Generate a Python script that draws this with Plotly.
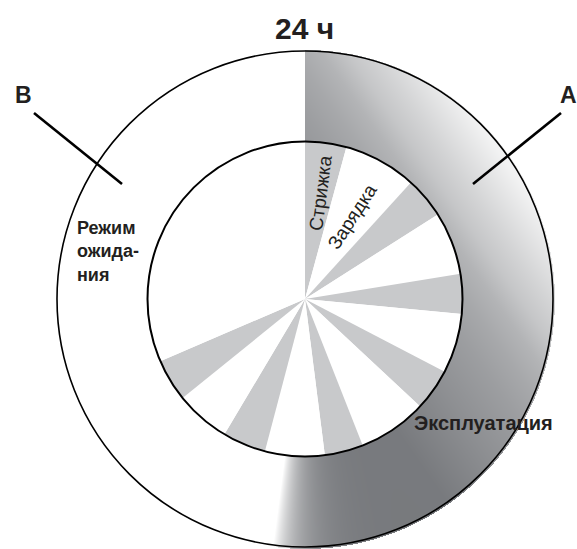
import numpy as np
import plotly.graph_objects as go

W, H = 577, 549

# ---------------- data ----------------
total_hours = 24
ring_labels = ["Эксплуатация", "Режим ожидания"]
ring_hours = [12.5, 11.5]

inner_labels = ["Стрижка", "Зарядка", "Стрижка", "Зарядка", "Стрижка", "Зарядка",
                "Стрижка", "Зарядка", "Стрижка", "Зарядка", "Стрижка", "Зарядка",
                "Стрижка", "Режим ожидания"]
inner_minutes = [61, 108, 61, 93, 59, 88, 62, 102, 57, 88, 64, 81, 63, 453]

title_text = "24 ч"
marker_labels = ["A", "B"]

# ---------------- styling ----------------
CX, CY = 305, 299
R_IN, R_OUT = 157.5, 248
FONT = "Liberation Sans, Arial, sans-serif"
TXT = "#231f20"
slice_colors = {"Стрижка": "#c8c9cb", "Зарядка": "#ffffff", "Режим ожидания": "#ffffff"}

# gradient stops (projection along a diagonal direction -> gray level)
grad_p = [-270, 0, 60, 107, 132, 155, 176, 200, 243, 275]
grad_v = [115, 122, 143, 158, 168, 180, 198, 213, 242, 247]
phi = np.radians(55)

# ---------------- outer ring shading (operation part) ----------------
xs = np.arange(np.floor(CX - R_OUT) - 2, np.ceil(CX + R_OUT) + 3)
ys = np.arange(np.floor(CY - R_OUT) - 2, np.ceil(CY + R_OUT) + 3)
X, Y = np.meshgrid(xs, ys)
dx, dy = X - CX, Y - CY
r = np.hypot(dx, dy)
theta = np.degrees(np.arctan2(dx, -dy)) % 360
theta_end = 360.0 * ring_hours[0] / total_hours
p = dx * np.sin(phi) - dy * np.cos(phi)
v = np.interp(p, grad_p, grad_v)
fade = np.clip(1 - np.exp(-(theta_end - theta) / 6.0), 0, 1)
v = 255 - (255 - v) * fade
mask = (r >= R_IN - 1.5) & (r <= R_OUT + 1.5) & (theta < theta_end)
z = np.where(mask, np.round(v, 1), np.nan)

fig = go.Figure()
fig.add_trace(go.Heatmap(
    x=xs, y=ys, z=z, zmin=115, zmax=255, zsmooth=False,
    colorscale=[[0, "rgb(113,115,119)"], [1, "rgb(255,255,255)"]],
    showscale=False, hoverinfo="skip", name=ring_labels[0]))

# ---------------- inner schedule (pie) ----------------
fig.add_trace(go.Pie(
    labels=[f"{n} {i + 1}" for i, n in enumerate(inner_labels)],
    values=inner_minutes, sort=False, direction="clockwise", rotation=0,
    marker=dict(colors=[slice_colors[n] for n in inner_labels], line=dict(width=0)),
    textinfo="none", hoverinfo="skip", showlegend=False,
    domain=dict(x=[(CX - R_IN) / W, (CX + R_IN) / W],
                y=[1 - (CY + R_IN) / H, 1 - (CY - R_IN) / H])))

shapes = [
    dict(type="circle", xref="x", yref="y", x0=CX - R_OUT, x1=CX + R_OUT,
         y0=CY - R_OUT, y1=CY + R_OUT, line=dict(color="black", width=1.6), layer="above"),
    dict(type="circle", xref="x", yref="y", x0=CX - R_IN, x1=CX + R_IN,
         y0=CY - R_IN, y1=CY + R_IN, line=dict(color="black", width=2), layer="above"),
    dict(type="line", xref="x", yref="y", x0=34, y0=113, x1=122, y1=184,
         line=dict(color="black", width=2.6), layer="above"),
    dict(type="line", xref="x", yref="y", x0=561, y0=113, x1=473, y1=184,
         line=dict(color="black", width=2.6), layer="above"),
]

def ann(text, x, y, size, bold=True, angle=0, xanchor="center", align="center"):
    return dict(text=text, x=x, y=y, xref="x", yref="y", showarrow=False,
                xanchor=xanchor, yanchor="middle", align=align, textangle=angle,
                font=dict(family=FONT, size=size, color=TXT,
                          weight="bold" if bold else "normal"))

annotations = [
    ann(title_text, 304, 28, 30),
    ann(marker_labels[1], 23, 95, 23),
    ann(marker_labels[0], 558, 95, 23, xanchor="left"),
    ann("Режим<br>ожида-<br>ния", 75, 251, 18, xanchor="left", align="left"),
    ann(ring_labels[0], 412, 423, 20, xanchor="left"),
    ann(inner_labels[0], 320, 193, 19, bold=False, angle=-82.5),
    ann(inner_labels[1], 352, 216, 19, bold=False, angle=-57),
]

fig.update_layout(
    width=W, height=H, margin=dict(l=0, r=0, t=0, b=0),
    paper_bgcolor="white", plot_bgcolor="white", showlegend=False,
    xaxis=dict(range=[0, W], visible=False, fixedrange=True),
    yaxis=dict(range=[H, 0], visible=False, fixedrange=True),
    shapes=shapes, annotations=annotations,
)

fig.write_html("out.html", config={"displayModeBar": False},
               post_script="document.body.style.margin='0';document.body.style.overflow='hidden';")
